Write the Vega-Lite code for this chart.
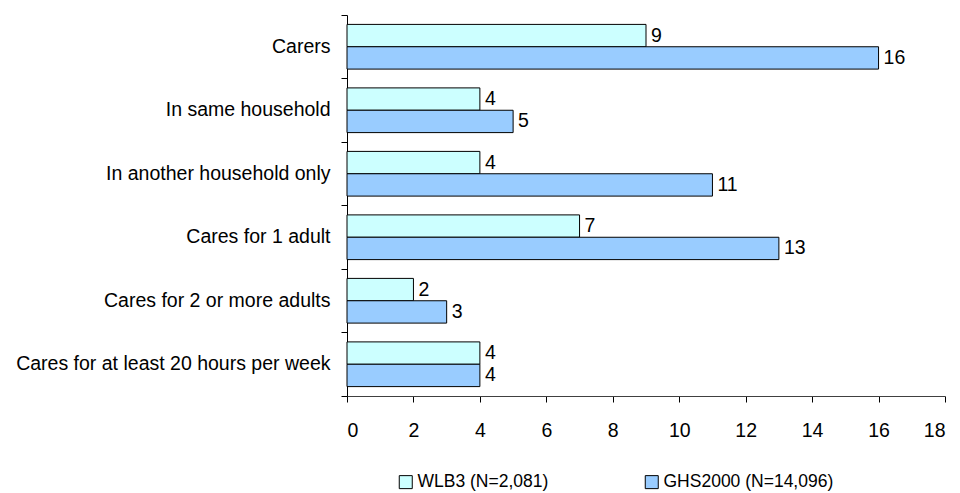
{
  "$schema": "https://vega.github.io/schema/vega-lite/v6.json",
  "width": 598,
  "height": 381,
  "autosize": {"type": "none"},
  "padding": {"left": 347, "top": 15, "right": 15, "bottom": 97},
  "background": "white",
  "config": {
    "font": "Liberation Sans",
    "view": {"stroke": null},
    "axis": {"grid": false, "domainColor": "black", "tickColor": "black", "labelColor": "black", "labelFont": "Liberation Sans", "labelFontSize": 19.5, "titleFontSize": 19}
  },
  "data": {
    "values": [
      {"category": "Carers", "series": "WLB3 (N=2,081)", "value": 9},
      {"category": "Carers", "series": "GHS2000 (N=14,096)", "value": 16},
      {"category": "In same household", "series": "WLB3 (N=2,081)", "value": 4},
      {"category": "In same household", "series": "GHS2000 (N=14,096)", "value": 5},
      {"category": "In another household only", "series": "WLB3 (N=2,081)", "value": 4},
      {"category": "In another household only", "series": "GHS2000 (N=14,096)", "value": 11},
      {"category": "Cares for 1 adult", "series": "WLB3 (N=2,081)", "value": 7},
      {"category": "Cares for 1 adult", "series": "GHS2000 (N=14,096)", "value": 13},
      {"category": "Cares for 2 or more adults", "series": "WLB3 (N=2,081)", "value": 2},
      {"category": "Cares for 2 or more adults", "series": "GHS2000 (N=14,096)", "value": 3},
      {"category": "Cares for at least 20 hours per week", "series": "WLB3 (N=2,081)", "value": 4},
      {"category": "Cares for at least 20 hours per week", "series": "GHS2000 (N=14,096)", "value": 4}
    ]
  },
  "encoding": {
    "y": {
      "field": "category", "type": "nominal", "sort": null,
      "scale": {"paddingInner": 0, "paddingOuter": 0},
      "axis": {"title": null, "bandPosition": 1, "tickExtra": true, "tickSize": 6, "labelPadding": 11, "labelLimit": 400}
    },
    "yOffset": {
      "field": "series", "type": "nominal", "sort": ["WLB3 (N=2,081)", "GHS2000 (N=14,096)"],
      "scale": {"paddingInner": 0, "paddingOuter": 0.42}
    },
    "x": {
      "field": "value", "type": "quantitative",
      "scale": {"domain": [0, 18], "nice": false},
      "axis": {"title": null, "values": [0, 2, 4, 6, 8, 10, 12, 14, 16, 18], "tickSize": 6, "labelPadding": 19, "domainColor": "#404040"}
    }
  },
  "layer": [
    {
      "mark": {"type": "bar", "stroke": "black", "strokeWidth": 1},
      "encoding": {
        "color": {
          "field": "series", "type": "nominal", "sort": ["WLB3 (N=2,081)", "GHS2000 (N=14,096)"],
          "scale": {"range": ["#CCFFFF", "#99CCFF"]},
          "legend": {
            "title": null, "orient": "none", "direction": "horizontal",
            "legendX": 50, "legendY": 458,
            "symbolType": "square", "symbolSize": 169, "symbolStrokeColor": "black", "symbolStrokeWidth": 1,
            "labelFontSize": 17.5, "labelColor": "black", "labelOffset": 3, "labelLimit": 400, "columnPadding": 94
          }
        }
      }
    },
    {
      "mark": {"type": "text", "align": "left", "baseline": "middle", "dx": 5, "fontSize": 19.5, "color": "black"},
      "encoding": {"text": {"field": "value", "type": "quantitative"}}
    }
  ]
}
